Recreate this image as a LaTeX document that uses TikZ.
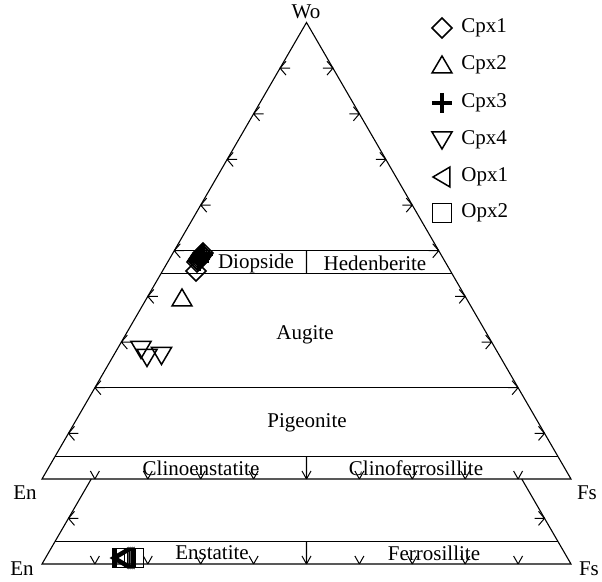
\documentclass[tikz,border=0pt]{standalone}
\usepackage{fontspec}
\setmainfont{Liberation Serif}
\usetikzlibrary{calc}
\begin{document}
\begin{tikzpicture}[x=0.5pt,y=-0.5pt,
  ln/.style={line width=0.55pt},
  tk/.style={line width=0.5pt},
  mk/.style={line width=0.75pt, line join=miter},
  lbl/.style={font=\fontsize{10.5}{12}\selectfont, inner sep=0pt},
  pdia/.pic={\draw[mk] (0,-10)--(10,0)--(0,10)--(-10,0)--cycle;},
  ptri/.pic={\draw[mk] (-10,8)--(10,8)--(0,-9)--cycle;},
  pplus/.pic={\draw[line width=1.7pt] (-10,0)--(10,0) (0,-10)--(0,10);},
  pdtri/.pic={\draw[mk] (-10,-8)--(10,-8)--(0,9)--cycle;},
  pltri/.pic={\draw[mk] (-9,0)--(8,-10)--(8,10)--cycle;},
  psq/.pic={\draw[mk] (-9.5,-9.5) rectangle (9.5,9.5);},
]
\useasboundingbox (0,0) rectangle (602,582);
% main triangle
\coordinate (A) at (306.5,22.5);
\coordinate (E) at (42,479);
\coordinate (F) at (571,479);
% lower (orthopyroxene) trapezoid
\coordinate (A2) at (306.5,107.5);
\coordinate (E2) at (42,564);
\coordinate (F2) at (571,564);
\draw[ln] (E) -- (A) -- (F) -- cycle;
\foreach \f in {0.5,0.45,0.2,0.05}{
  \draw[ln] ($(E)!\f!(A)$) -- ($(F)!\f!(A)$);
}
\coordinate (L1) at ($(E2)!0.1862!(A2)$);
\coordinate (R1) at ($(F2)!0.1862!(A2)$);
\draw[ln] (L1) -- (E2) -- (F2) -- (R1);
\draw[ln] ($(E2)!0.05!(A2)$) -- ($(F2)!0.05!(A2)$);
% dividers
\draw[ln] ($(E)!.5!(F)!.5!(A)$) -- ($(E)!.5!(F)!.45!(A)$);
\draw[ln] ($(E)!.5!(F)!.05!(A)$) -- ($(E)!.5!(F)$);
\draw[ln] ($(E2)!.5!(F2)!.05!(A2)$) -- ($(E2)!.5!(F2)$);
% ticks
\foreach \k in {1,...,9}{
  \pgfmathsetmacro\f{\k/10}
  \coordinate (tl) at ($(E)!\f!(A)$);
  \coordinate (tr) at ($(F)!\f!(A)$);
  \coordinate (tb) at ($(E)!\f!(F)$);
  \coordinate (tb2) at ($(E2)!\f!(F2)$);
  \draw[tk] (tl) -- ++(10,0) (tl) -- ++(6,-7) (tl) -- ++(6,7);
  \draw[tk] (tr) -- ++(-10,0) (tr) -- ++(-6,-7) (tr) -- ++(-6,7);
  \draw[tk] (tb) -- ++(-4.5,-8) (tb) -- ++(4.5,-8);
  \draw[tk] (tb2) -- ++(-4.5,-8) (tb2) -- ++(4.5,-8);
}
\coordinate (tl2) at ($(E2)!0.1!(A2)$);
\coordinate (tr2) at ($(F2)!0.1!(A2)$);
\draw[tk] (tl2) -- ++(10,0) (tl2) -- ++(6,-7) (tl2) -- ++(6,7);
\draw[tk] (tr2) -- ++(-10,0) (tr2) -- ++(-6,-7) (tr2) -- ++(-6,7);
% labels
\node[lbl] (wo) at (306,12) {Wo};
\node[lbl] (en1) at (25,493) {En};
\node[lbl] (fs1) at (587,493) {Fs};
\node[lbl] (en2) at (22,569) {En};
\node[lbl] (fs2) at (589,569) {Fs};
\node[lbl] (di) at (256,263) {Diopside};
\node[lbl] (hd) at (375,263) {Hedenberite};
\node[lbl] (au) at (305,335) {Augite};
\node[lbl] (pg) at (307,423) {Pigeonite};
\node[lbl] (ce) at (201,468) {Clinoenstatite};
\node[lbl] (cf) at (416,468) {Clinoferrosillite};
\node[lbl] (es) at (212,553) {Enstatite};
\node[lbl] (fe) at (434,553) {Ferrosillite};
% data: Cpx1 / Cpx3 cluster
\foreach \x/\y in {196/271,197/262,198/260.5,199/259,200/257.5,201/256,202/254.5,203/253}
  \pic at (\x,\y) {pdia};
\foreach \x/\y in {199/261,200/258,201/256,203/254}
  \pic at (\x,\y) {pplus};
% Cpx2
\pic at (182,298) {ptri};
% Cpx4
\foreach \x/\y in {141/349.5,147/357.5,161.5/355.5}
  \pic at (\x,\y) {pdtri};
% Opx1 / Opx2 cluster
\foreach \x in {122,123,124,125,126,134}
  \pic at (\x,558) {psq};
\foreach \x in {120,122,124,126}
  \pic at (\x,558) {pltri};
% legend
\foreach \y/\p/\t [count=\i] in {28/pdia/Cpx1,65/ptri/Cpx2,103/pplus/Cpx3,140/pdtri/Cpx4,177/pltri/Opx1,213/psq/Opx2}{
  \pic at (442,\y) {\p};
  \node[lbl, anchor=west] (leg\i) at (461,\y) {\t};
}
\end{tikzpicture}
\end{document}
